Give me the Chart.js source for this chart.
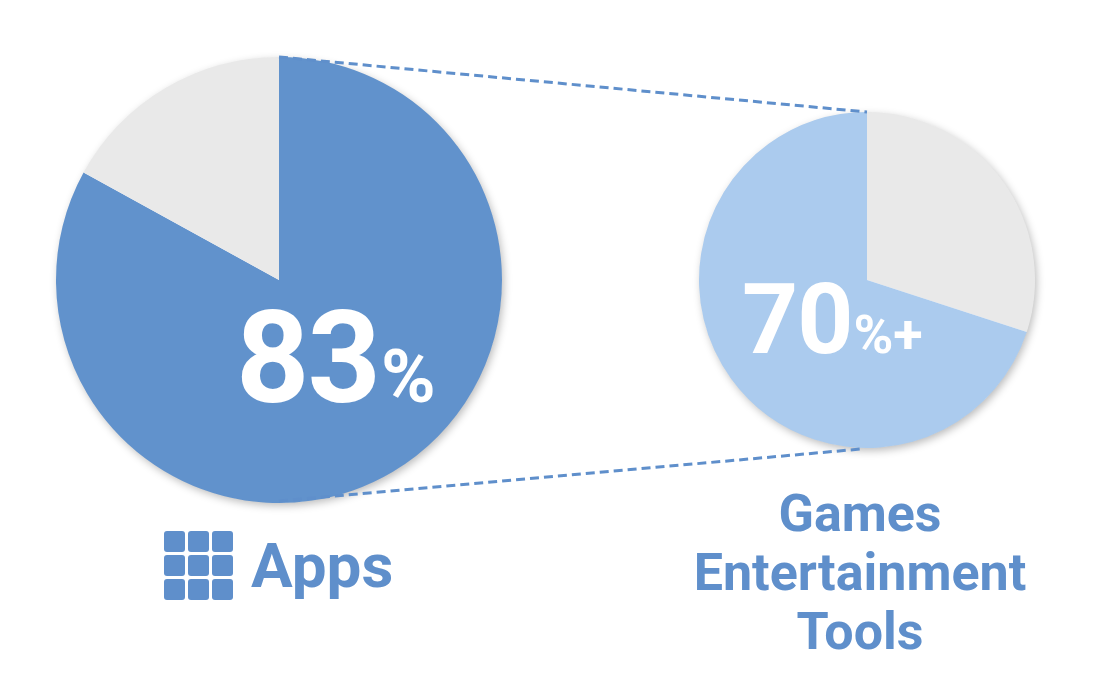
<!DOCTYPE html>
<html>
<head>
<meta charset="utf-8">
<script src="https://cdn.jsdelivr.net/npm/chart.js@4.4.1/dist/chart.umd.min.js"></script>
<style>
  html, body { margin:0; padding:0; background:#fff; }
  body { width:1100px; height:700px; position:relative; overflow:hidden; font-family: Roboto, "Noto Sans", sans-serif; }
  .box { position:absolute; }
  #lines { position:absolute; left:0; top:0; z-index:3; pointer-events:none; }
  .txt { position:absolute; font-weight:700; white-space:nowrap; line-height:1; z-index:4; }
  .white { color:#fff; }
  .blue { color:#5f8fcb; }
  .grid { position:absolute; left:164px; top:531px; width:69px; height:69px; display:grid;
          grid-template-columns:repeat(3,21px); grid-template-rows:repeat(3,21px); gap:3px; z-index:4; }
  .grid div { background:#5f8fcb; border-radius:3px; }
</style>
</head>
<body>
<div class="box" id="leftBox" style="left:39px;top:40px;width:480px;height:480px;z-index:1"><canvas id="leftPie"></canvas></div>
<div class="box" id="rightBox" style="left:687px;top:100px;width:360px;height:360px;z-index:1"><canvas id="rightPie"></canvas></div>
<canvas id="lines" width="1100" height="700"></canvas>

<div class="txt white" style="left:236px;top:294px;font-size:128px;letter-spacing:-2px">83<span style="font-size:74px;letter-spacing:0;margin-left:2px">%</span></div>
<div class="txt white" style="left:742px;top:271px;font-size:98px;letter-spacing:-1px">70<span style="font-size:54px;letter-spacing:0;margin-left:1px">%+</span></div>

<div class="grid"><div></div><div></div><div></div><div></div><div></div><div></div><div></div><div></div><div></div></div>
<div class="txt blue" style="left:251px;top:535px;font-size:62px">Apps</div>
<div class="txt blue" style="left:660px;top:484px;width:400px;text-align:center;font-size:52px;line-height:59px">Games<br>Entertainment<br>Tools</div>

<script>
// ---- data ----
const leftLabels = ["Apps", "Other"];
const leftValues = [83, 17];
const rightLabels = ["Other", "Games / Entertainment / Tools"];
const rightValues = [30, 70];

const BLUE = "#6192cc";
const LIGHT = "#abcbee";
const GREY = "#e9e9e9";

const shadowPlugin = {
  id: "pieShadow",
  beforeDatasetsDraw(chart) {
    const arc = chart.getDatasetMeta(0).data[0];
    if (!arc) return;
    const ctx = chart.ctx;
    ctx.save();
    ctx.shadowColor = "rgba(0,0,0,0.28)";
    ctx.shadowBlur = 9;
    ctx.shadowOffsetX = 2;
    ctx.shadowOffsetY = 3;
    ctx.fillStyle = "#ffffff";
    ctx.beginPath();
    ctx.arc(arc.x, arc.y, arc.outerRadius - 0.5, 0, Math.PI * 2);
    ctx.fill();
    ctx.restore();
  }
};

function makePie(id, labels, values, colors, pad) {
  return new Chart(document.getElementById(id), {
    type: "pie",
    data: { labels, datasets: [{ data: values, backgroundColor: colors, borderWidth: 0 }] },
    options: {
      responsive: true,
      maintainAspectRatio: false,
      animation: false,
      events: [],
      layout: { padding: pad },
      plugins: { legend: { display: false }, tooltip: { enabled: false } }
    },
    plugins: [shadowPlugin]
  });
}

const left = makePie("leftPie", leftLabels, leftValues, [BLUE, GREY], 17);
const right = makePie("rightPie", rightLabels, rightValues, [GREY, LIGHT], 12);

function drawLines() {
  const a = left.getDatasetMeta(0).data[0];
  const b = right.getDatasetMeta(0).data[0];
  const lb = document.getElementById("leftBox");
  const rb = document.getElementById("rightBox");
  const ax = lb.offsetLeft + a.x, ay = lb.offsetTop + a.y, ar = a.outerRadius;
  const bx = rb.offsetLeft + b.x, by = rb.offsetTop + b.y, br = b.outerRadius;
  const ctx = document.getElementById("lines").getContext("2d");
  ctx.clearRect(0, 0, 1100, 700);
  ctx.strokeStyle = "#5f8fcb";
  ctx.lineWidth = 3;
  ctx.setLineDash([9, 5]);
  ctx.beginPath();
  ctx.moveTo(ax, ay - ar);
  ctx.lineTo(bx, by - br);
  ctx.moveTo(ax, ay + ar - 2);
  ctx.lineTo(bx - 6, by + br + 1);
  ctx.stroke();
}
drawLines();
</script>
</body>
</html>
